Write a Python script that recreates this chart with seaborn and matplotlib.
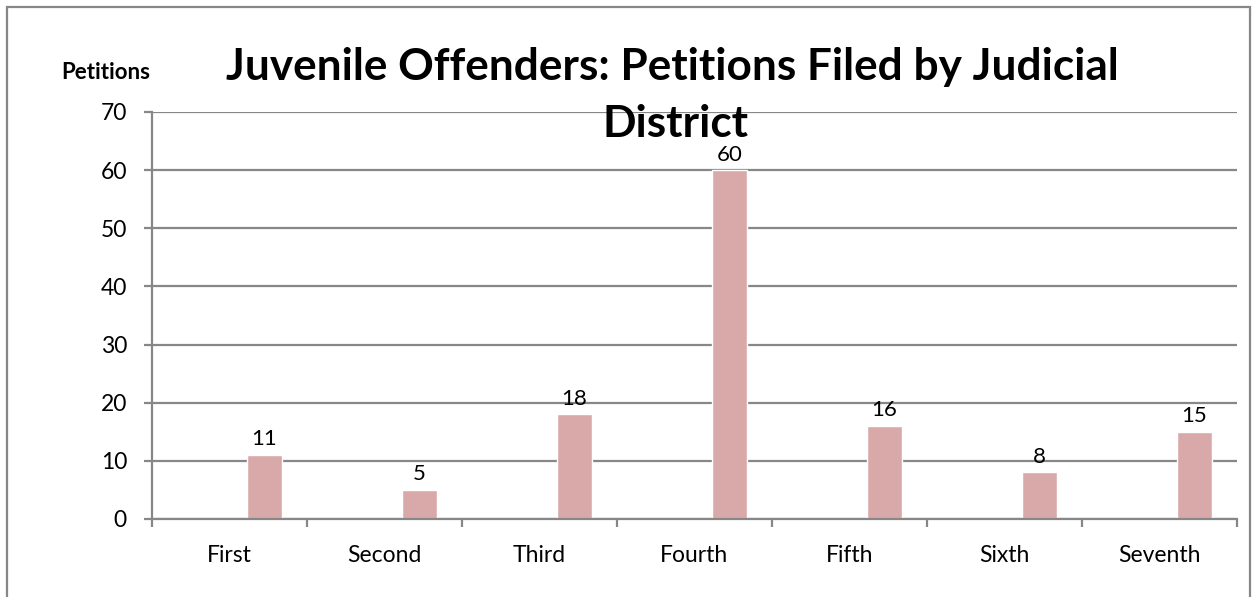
import matplotlib
matplotlib.use("Agg")
import matplotlib.pyplot as plt
import seaborn as sns
import pandas as pd
import numpy as np

districts = ["First", "Second", "Third", "Fourth", "Fifth", "Sixth", "Seventh"]
petitions = [11, 5, 18, 60, 16, 8, 15]
y_ticks = [0, 10, 20, 30, 40, 50, 60, 70]

sns.set_theme(style="white")
plt.rcParams['font.family'] = ['Lato', 'DejaVu Sans']
plt.rcParams['text.color'] = 'black'

# Excel-style layout: the visible series sits in the right-hand slot of each category
df = pd.DataFrame({
    "District": districts * 2,
    "Series": ["blank"] * len(districts) + ["Petitions"] * len(districts),
    "Value": [np.nan] * len(districts) + petitions,
})

fig = plt.figure(figsize=(12.53, 5.97), dpi=100)
ax = fig.add_axes([0.1213, 0.1307, 0.8659, 0.6817])

sns.barplot(data=df, x="District", y="Value", hue="Series", hue_order=["blank", "Petitions"],
            palette={"blank": "#D9A9A9", "Petitions": "#D9A9A9"}, width=0.9, gap=0.5,
            legend=False, ax=ax, errorbar=None, saturation=1)

grid_col = "#878787"
ax.set_ylim(0, 70)
ax.set_yticks(y_ticks)
ax.set_xlim(-0.5, len(districts) - 0.5)
ax.yaxis.grid(True, color=grid_col, linewidth=1.6)
ax.set_axisbelow(True)
for s in ["top", "right"]:
    ax.spines[s].set_visible(False)
for s in ["left", "bottom"]:
    ax.spines[s].set_color(grid_col)
    ax.spines[s].set_linewidth(1.6)

ax.set_xticks(np.arange(-0.5, len(districts), 1.0), minor=True)
ax.tick_params(axis="x", which="minor", length=6, width=1.6, color=grid_col, direction="out", bottom=True)
ax.tick_params(axis="x", which="major", length=0, labelsize=16.5, pad=19, colors="black")
ax.tick_params(axis="y", length=6, width=1.6, color=grid_col, direction="out", left=True,
               labelsize=16.5, labelcolor="black", pad=12)
ax.set_xlabel("")
ax.set_ylabel("")

for cont in ax.containers:
    labels = ["" if np.isnan(v) else f"{int(v)}" for v in cont.datavalues]
    ax.bar_label(cont, labels=labels, fontsize=16, padding=4, color="black")

fig.text(0.537, 0.866, "Juvenile Offenders: Petitions Filed by Judicial",
         ha="center", va="baseline", fontsize=31.8, fontweight="bold", color="black")
fig.text(0.539, 0.7705, "District",
         ha="center", va="baseline", fontsize=31.8, fontweight="bold", color="black")
fig.text(0.0485, 1 - 79 / 597, "Petitions", ha="left", va="baseline", fontsize=16,
         fontweight="bold", color="black")

border = plt.Rectangle((0.0056, -0.01), 0.992, 0.998, transform=fig.transFigure,
                       fill=False, edgecolor="#878787", linewidth=1.6)
fig.add_artist(border)

fig.savefig("out.png", dpi=100, facecolor="white")
